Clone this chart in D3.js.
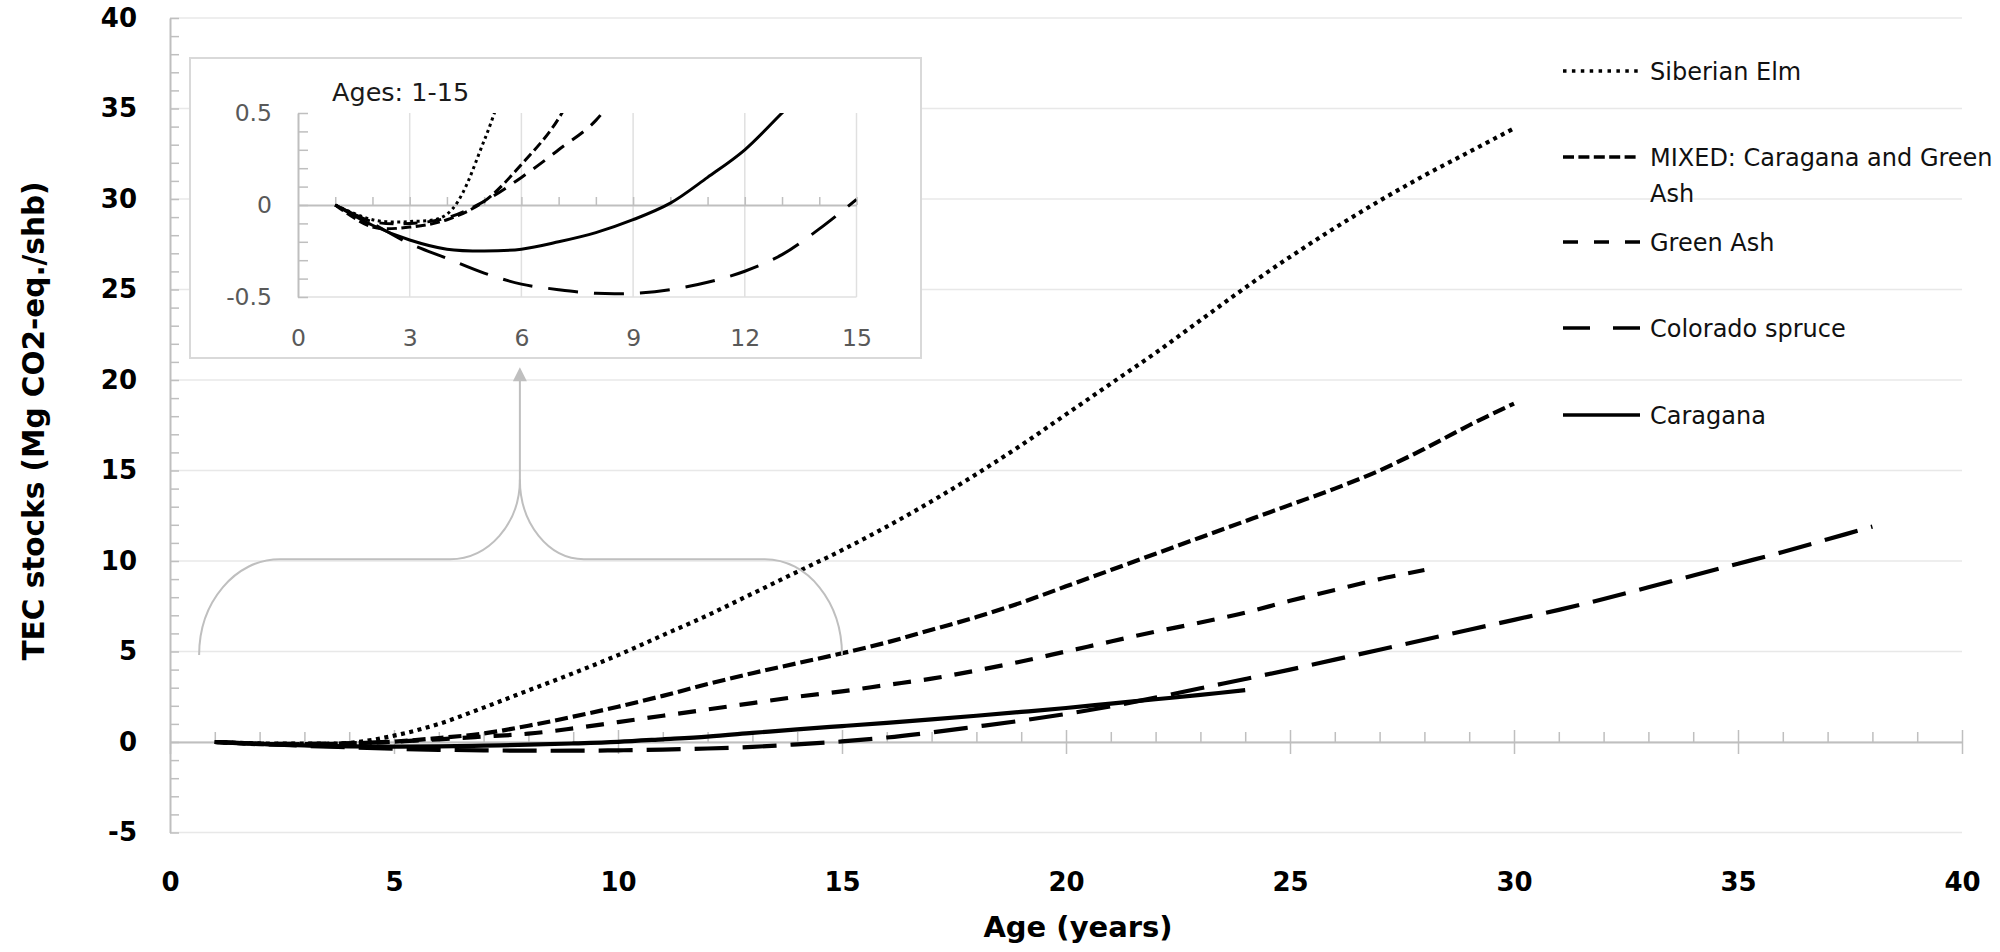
<!DOCTYPE html>
<html>
<head>
<meta charset="utf-8">
<script src="https://cdn.jsdelivr.net/npm/d3@7"></script>
<style>
  body { margin: 0; background: #fff; }
  svg { display: block; }
</style>
</head>
<body>
<svg id="chart" width="2000" height="952"></svg>
<script>
// ---------------- DATA ----------------
const seriesNames = ["Siberian Elm", "MIXED: Caragana and Green Ash", "Green Ash", "Colorado spruce", "Caragana"];
const legendLabels = [["Siberian Elm"], ["MIXED: Caragana and Green", "Ash"], ["Green Ash"], ["Colorado spruce"], ["Caragana"]];

const elmAges = d3.range(1, 31);
const elmValues = [0, -0.08, -0.09, -0.05, 0.35, 1.0, 1.9, 2.85, 3.8, 4.8, 5.9, 7.0, 8.2, 9.4, 10.6, 11.9, 13.3, 14.8, 16.4, 18.1, 19.8, 21.5, 23.3, 25.1, 26.8, 28.4, 29.9, 31.3, 32.6, 33.9];

const mixedAges = d3.range(1, 31);
const mixedValues = [0, -0.12, -0.12, -0.08, 0.02, 0.22, 0.47, 0.9, 1.4, 1.95, 2.55, 3.2, 3.8, 4.35, 4.9, 5.5, 6.2, 6.9, 7.7, 8.6, 9.5, 10.4, 11.3, 12.2, 13.1, 14.0, 15.0, 16.2, 17.5, 18.7];

const greenAshAges = d3.range(1, 29);
const greenAshValues = [0, -0.09, -0.1, -0.07, 0.02, 0.15, 0.3, 0.46, 0.75, 1.1, 1.45, 1.8, 2.15, 2.5, 2.8, 3.15, 3.5, 3.95, 4.45, 5.0, 5.55, 6.1, 6.6, 7.15, 7.8, 8.4, 9.0, 9.5];

const spruceAges = d3.range(1, 39);
const spruceValues = [0, -0.1, -0.21, -0.29, -0.37, -0.43, -0.46, -0.48, -0.48, -0.46, -0.42, -0.36, -0.27, -0.13, 0.03, 0.25, 0.53, 0.85, 1.18, 1.55, 1.97, 2.45, 2.97, 3.48, 4.0, 4.55, 5.1, 5.65, 6.2, 6.75, 7.3, 7.9, 8.55, 9.2, 9.85, 10.5, 11.2, 11.9];

const caraganaAges = d3.range(1, 25);
const caraganaValues = [0, -0.11, -0.19, -0.24, -0.25, -0.24, -0.2, -0.15, -0.08, 0.01, 0.15, 0.3, 0.5, 0.7, 0.88, 1.06, 1.25, 1.45, 1.66, 1.88, 2.12, 2.36, 2.6, 2.87];

const xTicks = [0, 5, 10, 15, 20, 25, 30, 35, 40];
const yTicks = [-5, 0, 5, 10, 15, 20, 25, 30, 35, 40];
const insetXTicks = [0, 3, 6, 9, 12, 15];
const insetYTicks = [-0.5, 0, 0.5];
const insetTitle = "Ages: 1-15";
const xTitle = "Age (years)";
const yTitle = "TEC stocks (Mg CO2-eq./shb)";

// ---------------- BUILD ----------------
const series = [
  { name: seriesNames[0], ages: elmAges, values: elmValues },
  { name: seriesNames[1], ages: mixedAges, values: mixedValues },
  { name: seriesNames[2], ages: greenAshAges, values: greenAshValues },
  { name: seriesNames[3], ages: spruceAges, values: spruceValues },
  { name: seriesNames[4], ages: caraganaAges, values: caraganaValues }
].map(s => ({ name: s.name, points: s.ages.map((a, i) => ({ age: a, v: s.values[i] })) }));

// styles (kept separate from data)
const mainDash = ["4,4.5", "13,5", "18,13", "34,14", null];
const legendDash = ["3.5,5.4", "11,4.4", "15,16", "27,23", null];
const insetDash = ["3,3.5", "10,4.5", "14,10", "30,16", null];

const FONT = "'DejaVu Sans', Verdana, sans-serif";
const AXIS = "#bfbfbf";
const GRID = "#e8e8e8";

const svg = d3.select("#chart");

const x = d3.scaleLinear().domain([0, 40]).range([170, 1962]);
const y = d3.scaleLinear().domain([-5, 40]).range([832.5, 18]);

// gridlines
svg.append("g").selectAll("line").data(yTicks).join("line")
  .attr("x1", x(0)).attr("x2", x(40))
  .attr("y1", d => y(d)).attr("y2", d => y(d))
  .attr("stroke", GRID).attr("stroke-width", 1.5);

// y axis (line + inside ticks)
const yAx = svg.append("g").attr("transform", `translate(${x(0)},0)`)
  .call(d3.axisRight(y).tickValues(d3.range(-5, 41)).tickSize(9).tickSizeOuter(0).tickFormat(""));
yAx.select(".domain").attr("stroke", AXIS).attr("stroke-width", 2);
yAx.selectAll(".tick line").attr("stroke", AXIS).attr("stroke-width", 1.5);

// y labels
const yLab = svg.append("g").attr("transform", `translate(137,0)`)
  .call(d3.axisLeft(y).tickValues(yTicks).tickSize(0).tickPadding(0).tickFormat(d => String(d)));
yLab.select(".domain").remove();
yLab.selectAll("text").attr("font-family", FONT).attr("font-weight", "bold").attr("font-size", 26).attr("fill", "#000");

// x axis at y=0
const xAxMinor = svg.append("g").attr("transform", `translate(0,${y(0)})`)
  .call(d3.axisTop(x).tickValues(d3.range(1, 40).filter(d => d % 5 !== 0)).tickSize(10).tickSizeOuter(0).tickFormat(""));
xAxMinor.select(".domain").attr("stroke", AXIS).attr("stroke-width", 2);
xAxMinor.selectAll(".tick line").attr("stroke", AXIS).attr("stroke-width", 1.5);
const xAxMajor = svg.append("g").attr("transform", `translate(0,${y(0)})`)
  .call(d3.axisBottom(x).tickValues(xTicks).tickSize(12).tickSizeOuter(0).tickFormat(""));
xAxMajor.select(".domain").remove();
xAxMajor.selectAll(".tick line").attr("y1", -12).attr("stroke", AXIS).attr("stroke-width", 1.5);

// x labels
const xLab = svg.append("g").attr("transform", `translate(0,882)`)
  .call(d3.axisBottom(x).tickValues(xTicks).tickSize(0).tickPadding(0).tickFormat(d => String(d)));
xLab.select(".domain").remove();
xLab.selectAll("text").attr("dy", "0.36em").attr("font-family", FONT).attr("font-weight", "bold").attr("font-size", 26).attr("fill", "#000");

// axis titles
svg.append("text").attr("x", 1078).attr("y", 937).attr("text-anchor", "middle")
  .attr("font-family", FONT).attr("font-weight", "bold").attr("font-size", 29).attr("fill", "#000").text(xTitle);
svg.append("text").attr("transform", "translate(44,421) rotate(-90)").attr("text-anchor", "middle")
  .attr("font-family", FONT).attr("font-weight", "bold").attr("font-size", 29.5).attr("fill", "#000").text(yTitle);

// main lines
const line = d3.line().x(d => x(d.age)).y(d => y(d.v)).curve(d3.curveCatmullRom.alpha(0.5));
svg.append("g").selectAll("path").data(series).join("path")
  .attr("d", d => line(d.points))
  .attr("fill", "none").attr("stroke", "#000").attr("stroke-width", 4.2)
  .attr("stroke-dasharray", (d, i) => mainDash[i]);

// brace annotation (in data coordinates)
const bL = x(0.65), bR = x(15.0), bC = x(7.81);
const bBot = y(4.8), bMid = y(10.1), bStem = y(14.5), bTip = y(20.7);
const arcLW = x(2.45) - x(0.65), arcRW = x(15.0) - x(13.28);
const inL = x(7.81) - x(6.25), inR = x(9.24) - x(7.81);
const k = 0.552;
const ry = bBot - bMid, ryIn = bMid - bStem;
const braceL = `M${bL},${bBot} C${bL},${bBot - k * ry} ${bL + arcLW - k * arcLW},${bMid} ${bL + arcLW},${bMid}` +
  ` L${bC - inL},${bMid} C${bC - inL + k * inL},${bMid} ${bC},${bStem + k * ryIn} ${bC},${bStem} L${bC},${bTip + 10}`;
const braceR = `M${bC},${bStem} C${bC},${bStem + k * ryIn} ${bC + inR - k * inR},${bMid} ${bC + inR},${bMid}` +
  ` L${bR - arcRW},${bMid} C${bR - arcRW + k * arcRW},${bMid} ${bR},${bBot - k * ry} ${bR},${bBot}`;
svg.append("path").attr("d", braceL).attr("fill", "none").attr("stroke", AXIS).attr("stroke-width", 2);
svg.append("path").attr("d", braceR).attr("fill", "none").attr("stroke", AXIS).attr("stroke-width", 2);
svg.append("path").attr("d", `M${bC},${bTip} L${bC - 7},${bTip + 14} L${bC + 7},${bTip + 14} Z`).attr("fill", AXIS);

// ---------------- INSET ----------------
const ix = d3.scaleLinear().domain([0, 15]).range([298, 856.5]);
const iy = d3.scaleLinear().domain([-0.5, 0.5]).range([297, 113]);
const inset = svg.append("g");
inset.append("rect").attr("x", 190).attr("y", 58).attr("width", 731).attr("height", 300)
  .attr("fill", "#fff").attr("stroke", "#d9d9d9").attr("stroke-width", 2);
inset.append("g").selectAll("line").data(insetXTicks.filter(d => d > 0)).join("line")
  .attr("x1", d => ix(d)).attr("x2", d => ix(d)).attr("y1", iy(0.5)).attr("y2", iy(-0.5))
  .attr("stroke", "#e0e0e0").attr("stroke-width", 1.5);
inset.append("line").attr("x1", ix(0)).attr("x2", ix(15)).attr("y1", iy(-0.5)).attr("y2", iy(-0.5))
  .attr("stroke", "#e0e0e0").attr("stroke-width", 1.5);
const iyAx = inset.append("g").attr("transform", `translate(${ix(0)},0)`)
  .call(d3.axisRight(iy).tickValues(d3.range(-5, 6).map(d => d / 10)).tickSize(10).tickSizeOuter(0).tickFormat(""));
iyAx.select(".domain").attr("stroke", AXIS).attr("stroke-width", 2);
iyAx.selectAll(".tick line").attr("stroke", AXIS).attr("stroke-width", 1.5);
const ixAx = inset.append("g").attr("transform", `translate(0,${iy(0)})`)
  .call(d3.axisTop(ix).tickValues(d3.range(1, 16)).tickSize(8).tickSizeOuter(0).tickFormat(""));
ixAx.select(".domain").attr("stroke", AXIS).attr("stroke-width", 2);
ixAx.selectAll(".tick line").attr("stroke", AXIS).attr("stroke-width", 1.5);
const iyLab = inset.append("g").attr("transform", `translate(272,0)`)
  .call(d3.axisLeft(iy).tickValues(insetYTicks).tickSize(0).tickPadding(0).tickFormat(d => String(d)));
iyLab.select(".domain").remove();
iyLab.selectAll("text").attr("font-family", FONT).attr("font-size", 23.5).attr("fill", "#595959");
const ixLab = inset.append("g").attr("transform", `translate(0,338)`)
  .call(d3.axisBottom(ix).tickValues(insetXTicks).tickSize(0).tickPadding(0).tickFormat(d => String(d)));
ixLab.select(".domain").remove();
ixLab.selectAll("text").attr("dy", "0.36em").attr("font-family", FONT).attr("font-size", 23.5).attr("fill", "#595959");
inset.append("text").attr("x", 332).attr("y", 92).attr("dy", "0.36em")
  .attr("font-family", FONT).attr("font-size", 25.5).attr("fill", "#1a1a1a").text(insetTitle);

svg.append("defs").append("clipPath").attr("id", "insetClip").append("rect")
  .attr("x", ix(0)).attr("y", iy(0.5)).attr("width", ix(15) - ix(0)).attr("height", iy(-0.5) - iy(0.5));
const iline = d3.line().x(d => ix(d.age)).y(d => iy(d.v)).curve(d3.curveCatmullRom.alpha(0.5));
inset.append("g").attr("clip-path", "url(#insetClip)").selectAll("path").data(series).join("path")
  .attr("d", d => iline(d.points.filter(p => p.age <= 15)))
  .attr("fill", "none").attr("stroke", "#000").attr("stroke-width", 3)
  .attr("stroke-dasharray", (d, i) => insetDash[i]);

// ---------------- LEGEND ----------------
const legendY = [71, 157, 242, 328, 415];
const lg = svg.append("g").selectAll("g").data(series).join("g")
  .attr("transform", (d, i) => `translate(1563,${legendY[i]})`);
lg.append("line").attr("x1", 0).attr("x2", 77).attr("y1", 0).attr("y2", 0)
  .attr("stroke", "#000").attr("stroke-width", 3.5)
  .attr("stroke-dasharray", (d, i) => legendDash[i]);
lg.append("text").attr("x", 87).attr("y", 0)
  .attr("font-family", FONT).attr("font-size", 24).attr("fill", "#111")
  .each(function (d, i) {
    const t = d3.select(this);
    legendLabels[i].forEach((s, j) => {
      t.append("tspan").attr("x", 87).attr("dy", j === 0 ? "0.36em" : "36px").text(s);
    });
  });
</script>
</body>
</html>
